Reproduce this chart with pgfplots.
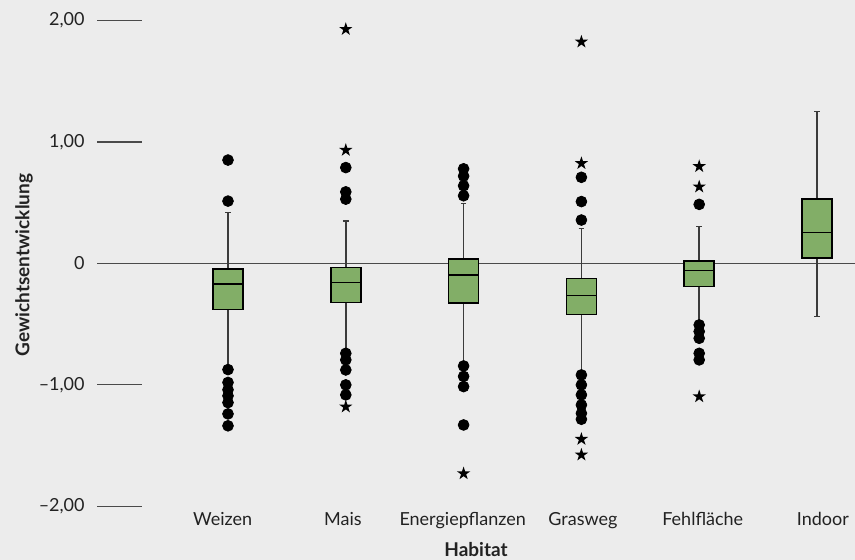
\documentclass[border=0pt]{standalone}
\usepackage{fontspec}
\setmainfont{Lato}
\usepackage{pgfplots}
\pgfplotsset{compat=1.18}
\usepgfplotslibrary{statistics}
\definecolor{bg}{HTML}{ECECEC}
\definecolor{boxgreen}{HTML}{82AE67}
\definecolor{linegray}{HTML}{4A4A4A}
\definecolor{txt}{HTML}{222222}
\pgfdeclareplotmark{fstar}{%
  \pgfpathmoveto{\pgfpointpolar{90}{\pgfplotmarksize}}%
  \pgfpathlineto{\pgfpointpolar{126}{0.382\pgfplotmarksize}}%
  \pgfpathlineto{\pgfpointpolar{162}{\pgfplotmarksize}}%
  \pgfpathlineto{\pgfpointpolar{198}{0.382\pgfplotmarksize}}%
  \pgfpathlineto{\pgfpointpolar{234}{\pgfplotmarksize}}%
  \pgfpathlineto{\pgfpointpolar{270}{0.382\pgfplotmarksize}}%
  \pgfpathlineto{\pgfpointpolar{306}{\pgfplotmarksize}}%
  \pgfpathlineto{\pgfpointpolar{342}{0.382\pgfplotmarksize}}%
  \pgfpathlineto{\pgfpointpolar{18}{\pgfplotmarksize}}%
  \pgfpathlineto{\pgfpointpolar{54}{0.382\pgfplotmarksize}}%
  \pgfpathclose\pgfusepathqfill}
\begin{document}
\begin{tikzpicture}
\path[fill=bg, use as bounding box] (-48.5pt,-26.85pt) rectangle (379pt,253.15pt);
\begin{axis}[
  at={(0pt,0pt)}, anchor=south west,
  scale only axis, width=379pt, height=253.15pt,
  xmin=-1.112, xmax=5.3226, ymin=-2, ymax=2.1705,
  axis line style={draw=none},
  clip=false,
  tick align=inside,
  ytick pos=left,
  major tick length=22.5pt,
  ytick={-2,-1,0,1,2},
  yticklabels={{–2,00},{–1,00},0,{1,00},{2,00}},
  ytick style={draw=linegray, line width=0.6pt},
  xtick={-0.045,0.976,1.992,3.013,4.03,5.05},
  xticklabels={Weizen,Mais,Energiepflanzen,Grasweg,Fehlfläche,Indoor},
  xtick style={draw=none},
  yticklabel style={anchor=east, inner sep=0pt, xshift=-6pt, font=\fontsize{9}{10}\selectfont, text=txt},
  xticklabel style={anchor=base, inner sep=0pt, yshift=-9.85pt, font=\fontsize{9}{10}\selectfont, text=txt},
  extra y ticks={0}, extra y tick labels={},
  extra y tick style={grid=major, major grid style={draw=linegray, line width=0.6pt}, tick style={draw=none}},
  xlabel={Habitat},
  xlabel style={at={(axis description cs:0.5,0)}, anchor=base, yshift=-25.35pt, font=\bfseries\fontsize{9.5}{11}\selectfont, inner sep=0pt, text=txt},
  ylabel={Gewichtsentwicklung},
  ylabel style={at={(axis description cs:0,0.4766)}, anchor=center, yshift=36.5pt, font=\bfseries\fontsize{9.5}{11}\selectfont, inner sep=0pt, text=txt},
  boxplot/draw direction=y,
  boxplot/box extend=0.255,
  boxplot/whisker extend=0.048,
  boxplot/every whisker/.style={draw=linegray!80!black, line width=0.75pt},
  boxplot/every median/.style={draw=black, line width=0.8pt},
  boxplot/every box/.style={draw=black, fill=boxgreen, line width=0.75pt},
]
\addplot[draw=black, fill=boxgreen, boxplot prepared={draw position=0, lower whisker=-0.86, lower quartile=-0.377, median=-0.17, upper quartile=-0.045, upper whisker=0.418}] coordinates {};
\addplot[draw=black, fill=boxgreen, boxplot prepared={draw position=1, lower whisker=-0.73, lower quartile=-0.32, median=-0.158, upper quartile=-0.034, upper whisker=0.35}] coordinates {};
\addplot[draw=black, fill=boxgreen, boxplot prepared={draw position=2, lower whisker=-0.83, lower quartile=-0.325, median=-0.097, upper quartile=0.037, upper whisker=0.495}] coordinates {};
\addplot[draw=black, fill=boxgreen, boxplot prepared={draw position=3, lower whisker=-0.90, lower quartile=-0.42, median=-0.265, upper quartile=-0.122, upper whisker=0.287}] coordinates {};
\addplot[draw=black, fill=boxgreen, boxplot prepared={draw position=4, lower whisker=-0.49, lower quartile=-0.188, median=-0.059, upper quartile=0.02, upper whisker=0.306}] coordinates {};
\addplot[draw=black, fill=boxgreen, boxplot prepared={draw position=5, lower whisker=-0.438, lower quartile=0.045, median=0.254, upper quartile=0.53, upper whisker=1.25}] coordinates {};
% outliers (circles)
\addplot[only marks, mark=*, mark size=2.7pt, black] coordinates {
  (0,0.852) (0,0.514) (0,-0.874) (0,-0.98) (0,-1.04) (0,-1.09) (0,-1.146) (0,-1.239) (0,-1.337)
  (1,0.79) (1,0.59) (1,0.53) (1,-0.74) (1,-0.794) (1,-0.877) (1,-1.0) (1,-1.082)
  (2,0.78) (2,0.72) (2,0.64) (2,0.558) (2,-0.844) (2,-0.93) (2,-1.014) (2,-1.33)
  (3,0.71) (3,0.51) (3,0.358) (3,-0.918) (3,-1.0) (3,-1.082) (3,-1.165) (3,-1.234) (3,-1.283)
  (4,0.487) (4,-0.506) (4,-0.56) (4,-0.616) (4,-0.74) (4,-0.794)
};
% extreme values (stars)
\addplot[only marks, mark=fstar, mark size=3.5pt, black] coordinates {
  (1,1.93) (1,0.934) (1,-1.18)
  (2,-1.73)
  (3,1.826) (3,0.825) (3,-1.447) (3,-1.576)
  (4,0.80) (4,0.632) (4,-1.096)
};
\end{axis}
\end{tikzpicture}
\end{document}
